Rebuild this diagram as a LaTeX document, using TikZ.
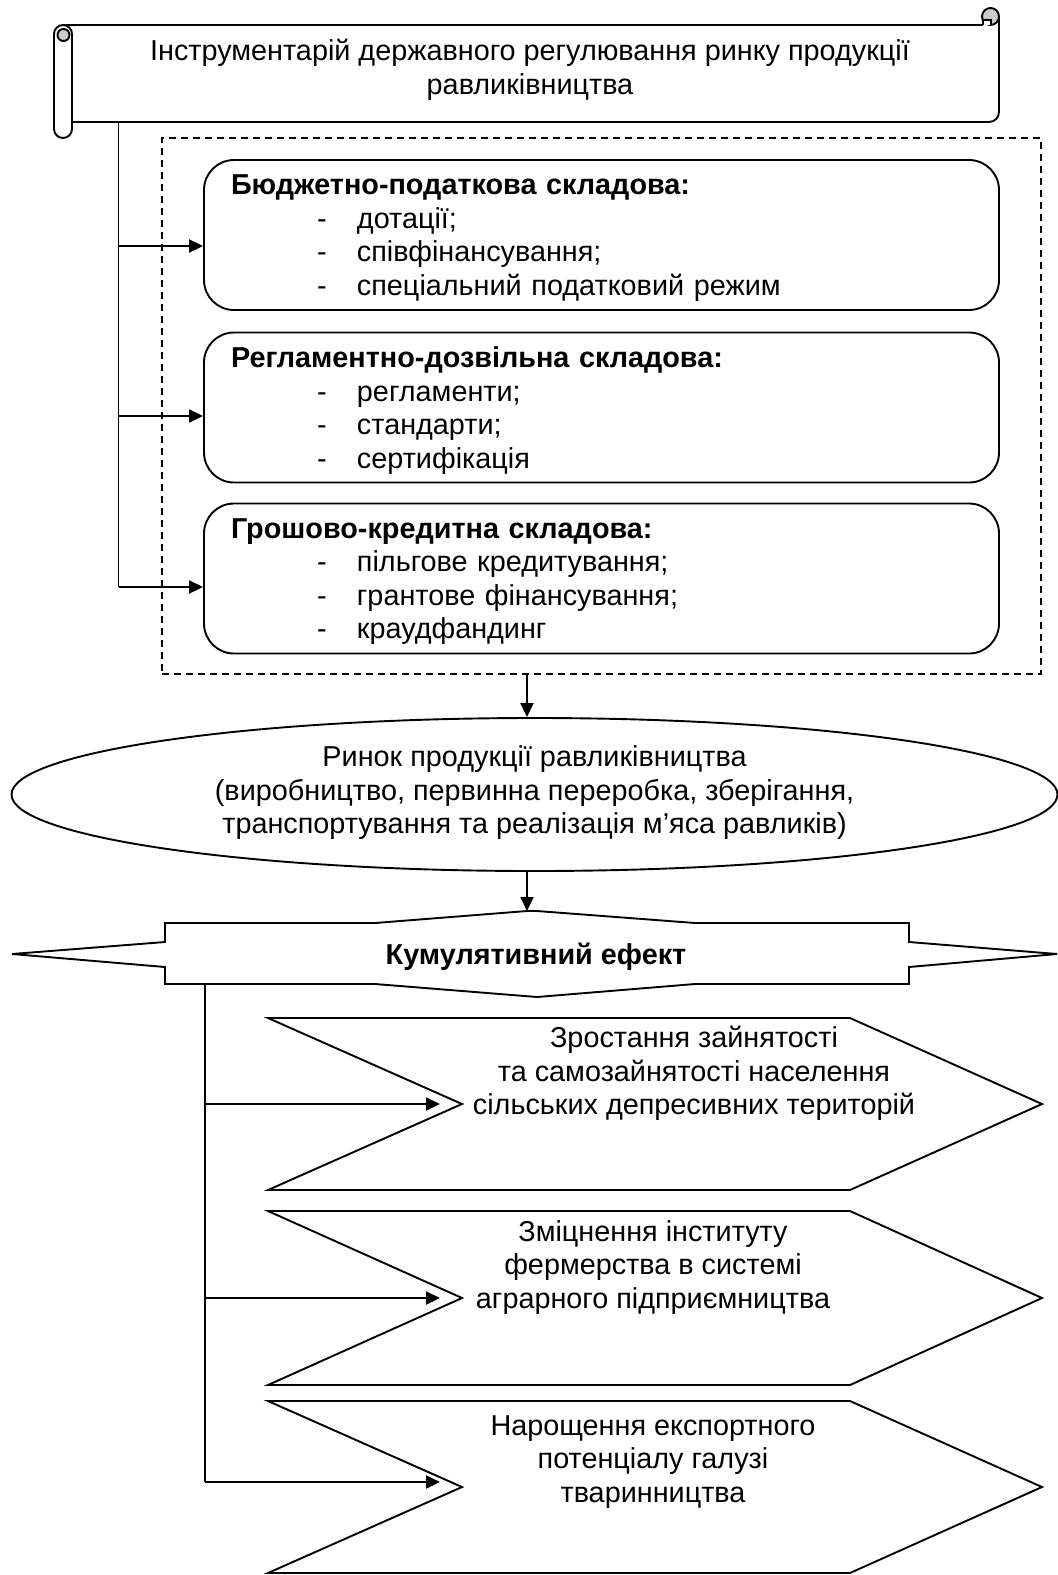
\documentclass[tikz,border=0pt]{standalone}
\usepackage{fontspec}
\setmainfont{Liberation Sans}
\usetikzlibrary{arrows.meta,shapes.geometric,calc}
\newcommand\itm[1]{\hspace*{86pt}\makebox[40pt][l]{-}#1}
\begin{document}
\begin{tikzpicture}[x=1pt,y=-1pt,
  every node/.style={font=\fontsize{28.8}{33.5}\selectfont, inner sep=0pt},
  ln/.style={line width=1.9pt},
  arr/.style={ln,-{Triangle[length=14pt,width=13pt]}},
  compbox/.style={ln, draw, fill=white, rounded corners=30pt, minimum width=795pt, minimum height=150pt},
  boxtext/.style={text width=741pt, align=left},
  chev/.style={ln, draw, fill=white, line join=miter},
  ctext/.style={align=center}
]
\useasboundingbox (0,0) rectangle (1058,1575);

% ---------- scroll ----------
\node[minimum width=927pt, minimum height=97pt] (scroll) at (535.5,73.5) {};
\draw[ln] (63,25) -- (983,25);
\draw[ln, rounded corners=10pt] (999,17) -- (999,122) -- (72,122);
\draw[ln, fill=gray!40] (990.5,16.5) circle[radius=8.5];
\draw[ln, fill=white] (983,25) -- (983,20) -- (991,20) -- (991,25);
\draw[ln, fill=white, rounded corners=9pt] (54,25) rectangle (72,138);
\draw[ln, fill=gray!40] (63.5,35) circle[radius=6];
\node[ctext] (title) at (530,70) {Інструментарій державного регулювання ринку продукції\\равликівництва};

% ---------- dashed frame and components ----------
\node[ln, draw, dash pattern=on 7pt off 5pt, minimum width=879pt, minimum height=536pt] (frame) at (601.5,406) {};
\node[compbox] (box1) at (601.5,235) {};
\node[compbox] (box2) at (601.5,407.5) {};
\node[compbox] (box3) at (601.5,578.5) {};
\node[boxtext] (box1t) at ($(box1.center)+(0,3)$) {\textbf{Бюджетно-податкова складова:}\\\itm{дотації;}\\\itm{співфінансування;}\\\itm{спеціальний податковий режим}};
\node[boxtext] (box2t) at ($(box2.center)+(0,3)$) {\textbf{Регламентно-дозвільна складова:}\\\itm{регламенти;}\\\itm{стандарти;}\\\itm{сертифікація}};
\node[boxtext] (box3t) at ($(box3.center)+(0,3)$) {\textbf{Грошово-кредитна складова:}\\\itm{пільгове кредитування;}\\\itm{грантове фінансування;}\\\itm{краудфандинг}};

\coordinate (t1) at (118.5,122);
\coordinate (t1end) at (118.5,587);
\draw[ln] (t1) -- (t1end);
\draw[arr] (t1 |- 0,246) -- (box1.west |- 0,246);
\draw[arr] (t1 |- 0,416) -- (box2.west |- 0,416);
\draw[arr] (t1end) -- (box3.west |- t1end);

% ---------- market ellipse ----------
\node[ln, draw, ellipse, minimum width=1046pt, minimum height=153pt] (ell) at (534.5,794.5) {};
\node[ctext] (mkt) at (534.5,793) {Ринок продукції равликівництва\\(виробництво, первинна переробка, зберігання,\\транспортування та реалізація м’яса равликів)};
\coordinate (fa) at (527,674);
\draw[arr] (fa) -- (fa |- ell.north);

% ---------- cumulative effect ----------
\draw[ln, line join=miter] (12,954) -- (165,942) -- (165,923) -- (375,923) -- (527,911) -- (537,911) -- (695,923) -- (909,923) -- (909,942) -- (1057,954) -- (909,967) -- (909,984) -- (695,984) -- (537,997) -- (375,984) -- (165,984) -- (165,967) -- cycle;
\node[font=\fontsize{28.8}{33.5}\selectfont\bfseries] (kum) at (536,957) {Кумулятивний ефект};
\coordinate (kumtop) at (527,911);
\draw[arr] (ell.south -| kumtop) -- (kumtop);

% ---------- chevrons ----------
\foreach \c/\h in {1104/86, 1298/87, 1487/86}{
  \draw[chev] (268,{\c-\h}) -- (850,{\c-\h}) -- (1042,\c) -- (850,{\c+\h}) -- (268,{\c+\h}) -- (462,\c) -- cycle;
}
\node[ctext] (ch1) at (694,1073.5) {Зростання зайнятості\\та самозайнятості населення\\сільських депресивних територій};
\node[ctext] (ch2) at (653,1267.5) {Зміцнення інституту\\фермерства в системі\\аграрного підприємництва};
\node[ctext] (ch3) at (653,1462) {Нарощення експортного\\потенціалу галузі\\тваринництва};

\coordinate (t2) at (205,984);
\coordinate (t2end) at (205,1482);
\coordinate (n1) at (440,1104);
\coordinate (n2) at (440,1298);
\coordinate (n3) at (440,1482);
\draw[ln] (t2) -- (t2end);
\draw[arr] (t2 |- n1) -- (n1);
\draw[arr] (t2 |- n2) -- (n2);
\draw[arr] (t2end) -- (n3);
\end{tikzpicture}
\end{document}
